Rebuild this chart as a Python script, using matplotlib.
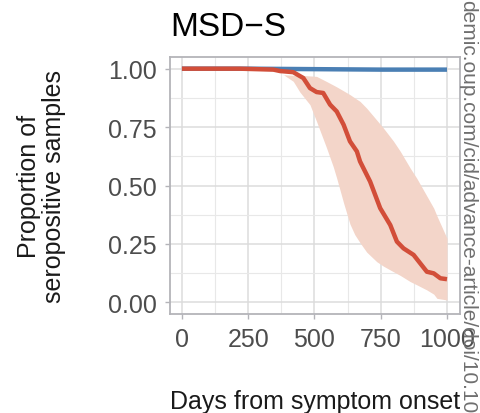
import matplotlib
matplotlib.use("Agg")
import matplotlib.pyplot as plt
import numpy as np
from matplotlib.ticker import MultipleLocator

plt.rcParams['font.family'] = ['Liberation Sans', 'DejaVu Sans']

days_blue = [0, 250, 500, 750, 1000]
prop_blue = [1.0, 1.0, 0.998, 0.996, 0.996]

days_red = [0, 218, 345, 370, 420, 458, 483, 508, 533, 559, 584, 610, 634,
            660, 672, 710, 748, 786, 811, 836, 874, 924, 950, 975, 1000]
prop_red = [1.0, 1.0, 0.996, 0.99, 0.985, 0.96, 0.917, 0.90, 0.896, 0.846,
            0.817, 0.76, 0.689, 0.646, 0.603, 0.517, 0.403, 0.331, 0.26,
            0.231, 0.203, 0.131, 0.124, 0.103, 0.099]

band_x = [300, 357, 382, 420, 445, 483, 508, 546, 571, 584, 610, 634, 652,
          672, 697, 735, 760, 798, 824, 861, 886, 924, 950, 962, 1000]
band_hi = [1.0, 0.995, 0.974, 0.972, 0.972, 0.969, 0.967, 0.945, 0.93, 0.922,
           0.905, 0.889, 0.875, 0.86, 0.831, 0.78, 0.746, 0.69, 0.646, 0.575,
           0.531, 0.455, 0.403, 0.37, 0.274]
band_lo = [1.0, 0.99, 0.975, 0.946, 0.9, 0.846, 0.774, 0.66, 0.58, 0.531,
           0.425, 0.335, 0.29, 0.255, 0.215, 0.174, 0.155, 0.131, 0.115, 0.089,
           0.075, 0.053, 0.035, 0.017, 0.01]

red = '#d24e39'
blue = '#4a7fb4'

fig = plt.figure(figsize=(4.81, 4.14), dpi=100)
ax = fig.add_axes([0.3534, 0.2391, 0.6029, 0.6208])

ax.fill_between(band_x, band_lo, band_hi, color='#f3d5c9', lw=0, zorder=1)
ax.plot(days_blue, prop_blue, color=blue, lw=3.2, zorder=2, solid_capstyle='butt')
ax.plot(days_red, prop_red, color=red, lw=3.2, zorder=3, solid_capstyle='butt')

ax.set_xlim(-45, 1049)
ax.set_ylim(-0.05, 1.05)
ax.xaxis.set_major_locator(MultipleLocator(250))
ax.xaxis.set_minor_locator(MultipleLocator(125))
ax.yaxis.set_major_locator(MultipleLocator(0.25))
ax.yaxis.set_minor_locator(MultipleLocator(0.125))
ax.set_yticks([0, 0.25, 0.5, 0.75, 1.0])
ax.set_yticklabels(['0.00', '0.25', '0.50', '0.75', '1.00'])
ax.grid(which='major', color='#dcdcdc', lw=1.1)
ax.grid(which='minor', color='#e8e8e8', lw=0.8)
ax.set_axisbelow(True)

for s in ax.spines.values():
    s.set_color('#b4b4b9')
    s.set_linewidth(1.3)
ax.tick_params(which='major', length=3.5, width=1, color='#b4b4b9',
               labelsize=18, labelcolor='#4d4d4d')
ax.tick_params(axis='x', which='major', pad=6)
ax.tick_params(axis='y', which='major', pad=6)
ax.tick_params(which='minor', length=0)

ax.set_title('MSD\u2212S', fontsize=24, loc='left', pad=16, x=0.0)
ax.set_ylabel('Proportion of\nseropositive samples', fontsize=18,
              color='#1a1a1a', labelpad=30, linespacing=1.05)
fig.text(0.654, 0.028, 'Days from symptom onset', fontsize=18,
         color='#1a1a1a', ha='center', va='center')

fig.text(0.973, 1.0, 'demic.oup.com/cid/advance-article/doi/10.10',
         fontsize=15, color='#6f6f6f', rotation=-90, ha='center', va='top')

fig.savefig('out.png', dpi=100)
